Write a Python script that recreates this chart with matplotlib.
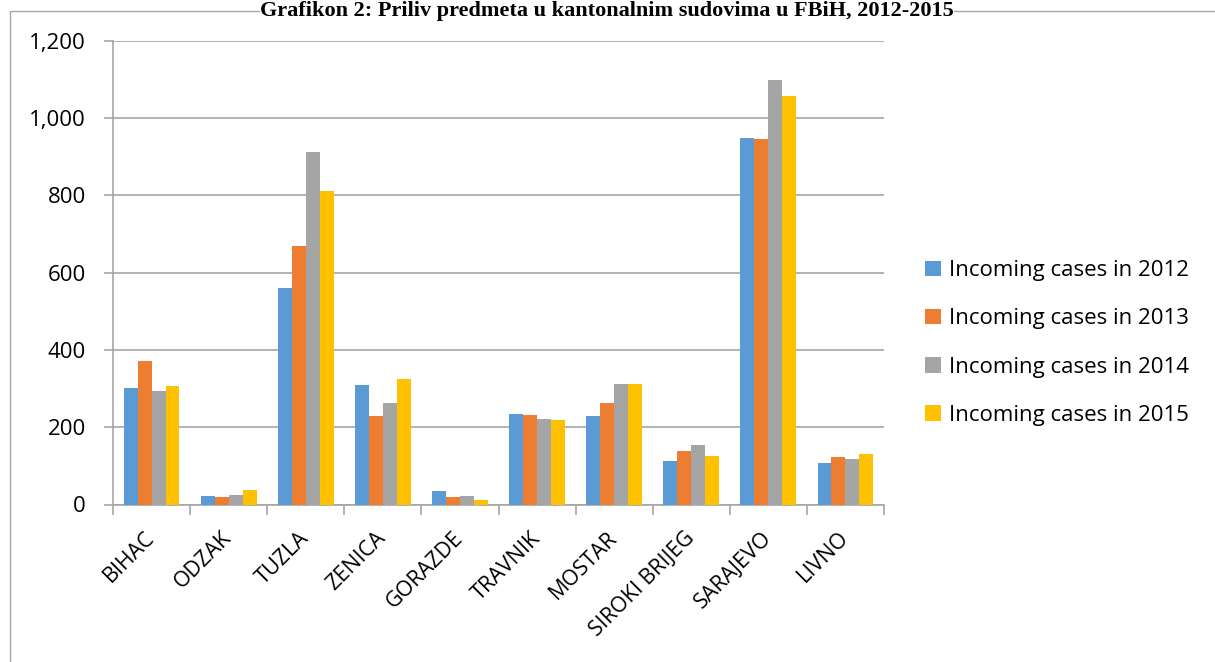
import numpy as np
import matplotlib.pyplot as plt
from matplotlib.patches import Rectangle
from matplotlib.ticker import FuncFormatter

courts = ["BIHAC", "ODZAK", "TUZLA", "ZENICA", "GORAZDE", "TRAVNIK",
          "MOSTAR", "SIROKI BRIJEG", "SARAJEVO", "LIVNO"]
cases_2012 = [301, 22, 560, 309, 34, 234, 228, 113, 949, 107]
cases_2013 = [371, 19, 669, 228, 19, 231, 262, 138, 946, 122]
cases_2014 = [294, 25, 912, 263, 21, 221, 312, 153, 1100, 118]
cases_2015 = [306, 37, 811, 325, 12, 218, 311, 126, 1058, 132]
series_names = ["Incoming cases in 2012", "Incoming cases in 2013",
                "Incoming cases in 2014", "Incoming cases in 2015"]
colors = ["#5B9BD5", "#ED7D31", "#A5A5A5", "#FFC000"]

plt.rcParams['font.family'] = ['Open Sans', 'DejaVu Sans']

fig = plt.figure(figsize=(12.15, 6.62), dpi=100)
ax = fig.add_axes([113 / 1215, 157.5 / 662, 771 / 1215, 463.5 / 662])

# chart frame
fig.patches.append(Rectangle((10 / 1215, -0.01), 1.02, 1 - 11 / 662 + 0.01,
                             transform=fig.transFigure, fill=False,
                             edgecolor="#a6a6a6", linewidth=1))

x = np.arange(len(courts))
w = 0.181
for i, vals in enumerate([cases_2012, cases_2013, cases_2014, cases_2015]):
    ax.bar(x + (i - 1.5) * w, vals, width=w, color=colors[i],
           label=series_names[i], zorder=3)

ax.set_xlim(-0.5, len(courts) - 0.5)
ax.set_ylim(0, 1200)
ax.set_yticks(np.arange(0, 1201, 200))
ax.yaxis.set_major_formatter(FuncFormatter(lambda v, p: f"{int(v):,}"))
ax.grid(axis="y", color="#a6a6a6", linewidth=1.2, zorder=0)
for s in ["top", "right"]:
    ax.spines[s].set_visible(False)
for s in ["left", "bottom"]:
    ax.spines[s].set_color("#a6a6a6")
    ax.spines[s].set_linewidth(1.2)

ax.set_xticks(np.arange(-0.5, len(courts)), minor=False)
ax.set_xticklabels([])
ax.set_xticks(x, minor=True)
ax.set_xticklabels(courts, minor=True, rotation=45, ha="right", va="center",
                   rotation_mode="anchor", fontsize=15.5)
ax.tick_params(axis="x", which="major", length=7, color="#a6a6a6", width=1.2)
ax.tick_params(axis="x", which="minor", length=0, pad=22)
ax.tick_params(axis="y", length=6.5, color="#a6a6a6", width=1.2,
               labelsize=16, pad=13)

ax.legend(loc="center left", bbox_to_anchor=(905 / 1215, 319 / 662),
          bbox_transform=fig.transFigure, frameon=False, fontsize=16,
          handlelength=0.7, handleheight=0.7, handletextpad=0.4,
          labelspacing=1.22)

fig.text(607 / 1215, 1 - 1 / 662,
         "Grafikon 2: Priliv predmeta u kantonalnim sudovima u FBiH, 2012-2015",
         ha="center", va="top", fontsize=16, fontweight="bold",
         family="Liberation Serif",
         bbox=dict(facecolor="white", edgecolor="none", pad=0))

fig.savefig("out.png", dpi=100)
